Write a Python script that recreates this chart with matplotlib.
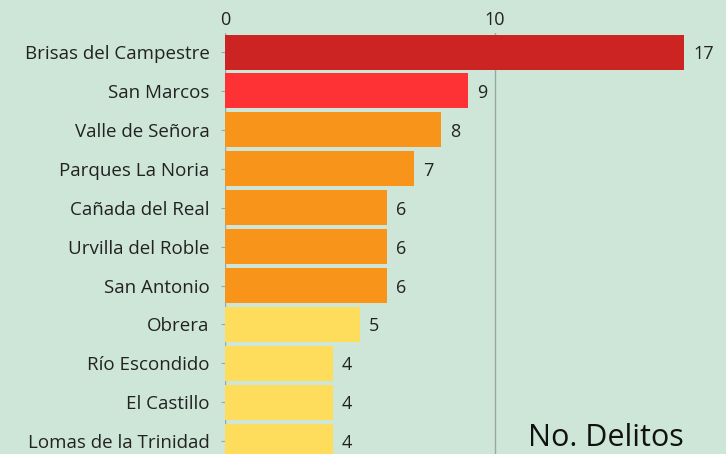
import matplotlib
matplotlib.use("Agg")
import matplotlib.pyplot as plt

colonias = ["Brisas del Campestre", "San Marcos", "Valle de Señora",
            "Parques La Noria", "Cañada del Real", "Urvilla del Roble",
            "San Antonio", "Obrera", "Río Escondido", "El Castillo",
            "Lomas de la Trinidad"]
delitos = [17, 9, 8, 7, 6, 6, 6, 5, 4, 4, 4]
colores = ["#cb2423", "#fe3234", "#f8941a", "#f8941a", "#f8941a", "#f8941a",
           "#f8941a", "#fedd5d", "#fedd5d", "#fedd5d", "#fedd5d"]
xticks = [0, 10]

BG = "#cee6d7"
TXT = "#222222"
plt.rcParams["font.family"] = ["Open Sans", "DejaVu Sans"]

fig = plt.figure(figsize=(7.26, 4.54), dpi=100, facecolor=BG)
ax = fig.add_axes([225/726, 0, 501/726, 421/454], facecolor=BG)

y = list(range(len(colonias)))
ax.barh(y, delitos, height=0.9, color=colores, zorder=2)
for yi, v in zip(y, delitos):
    ax.annotate(str(v), (v, yi), xytext=(6.5, 0), textcoords="offset points",
                ha="left", va="center_baseline", fontsize=13, color=TXT)

ax.set_xlim(0, 501/27)
ax.set_ylim(10.33, -0.49)
ax.set_yticks(y)
ax.set_yticklabels(colonias, fontsize=13.5, color=TXT)
ax.xaxis.tick_top()
ax.set_xticks(xticks)
ax.set_xticklabels([str(t) for t in xticks], fontsize=13, color=TXT)
ax.tick_params(axis="x", length=0, pad=3)
ax.tick_params(axis="y", length=3, color="#9aa89f", pad=8)
for lbl in ax.get_yticklabels():
    lbl.set_va("center_baseline")
ax.grid(axis="x", color="#9aa89f", linewidth=1, zorder=0)
for s in ax.spines.values():
    s.set_visible(False)

ax.text(0.916, 0.019, "No. Delitos", transform=ax.transAxes, ha="right",
        va="baseline", fontsize=22, color="#111111")

fig.savefig("out.png", dpi=100, facecolor=BG)
